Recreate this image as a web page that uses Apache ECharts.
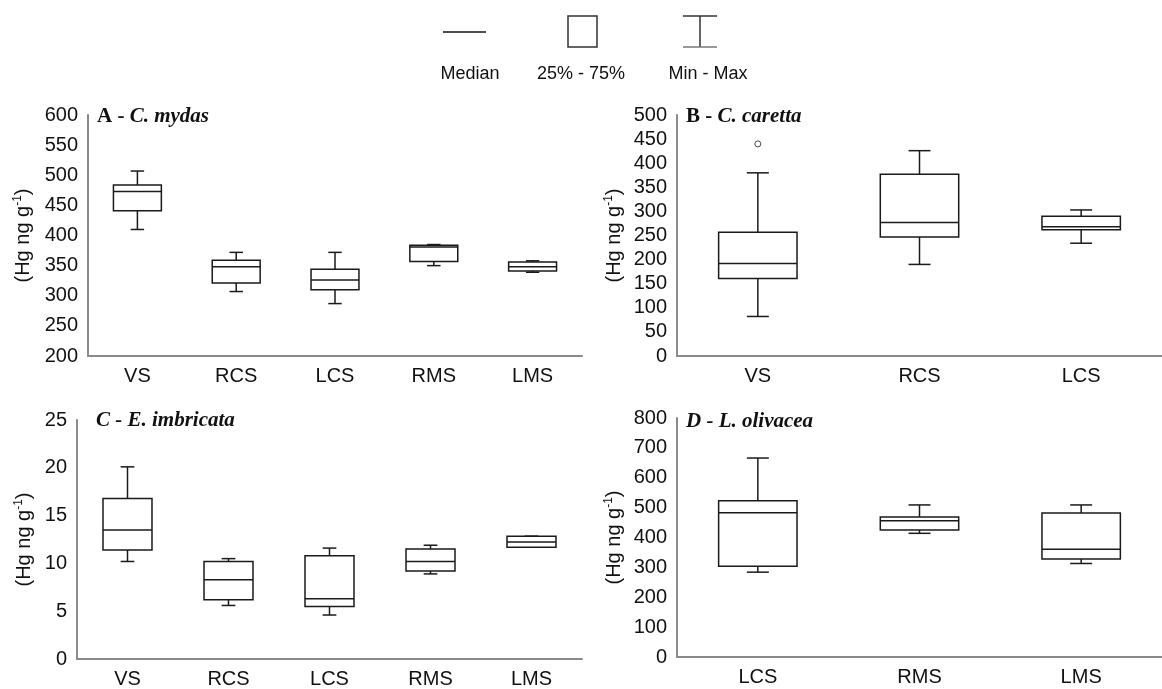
<!DOCTYPE html>
<html>
<head>
<meta charset="utf-8">
<script src="https://cdn.jsdelivr.net/npm/echarts@6/dist/echarts.min.js"></script>
<style>
html,body{margin:0;padding:0;background:#fff;}
#chart{width:1162px;height:689px;}
</style>
</head>
<body>
<div id="chart"></div>
<script>
// ---- Data ----
const catsA = ['VS', 'RCS', 'LCS', 'RMS', 'LMS'];
const minA = [410, 307, 287, 350, 339];
const q1A  = [441, 321, 310, 357, 341];
const medA = [473, 348, 326, 381, 348];
const q3A  = [484, 359, 344, 384, 356];
const maxA = [507, 372, 372, 385, 358];

const catsB = ['VS', 'RCS', 'LCS'];
const minB = [82, 190, 234];
const q1B  = [161, 247, 262];
const medB = [192, 277, 268];
const q3B  = [257, 377, 290];
const maxB = [380, 426, 303];
const outlierB = [[0, 440]];

const catsC = ['VS', 'RCS', 'LCS', 'RMS', 'LMS'];
const minC = [10.2, 5.6, 4.6, 8.9, 11.7];
const q1C  = [11.4, 6.2, 5.5, 9.2, 11.7];
const medC = [13.5, 8.3, 6.3, 10.2, 12.25];
const q3C  = [16.8, 10.2, 10.8, 11.5, 12.85];
const maxC = [20.1, 10.5, 11.6, 11.9, 12.85];

const catsD = ['LCS', 'RMS', 'LMS'];
const minD = [284, 414, 313];
const q1D  = [304, 425, 328];
const medD = [483, 456, 361];
const q3D  = [523, 469, 482];
const maxD = [666, 509, 509];

const yTicksA = {min: 200, max: 600, interval: 50};
const yTicksB = {min: 0, max: 500, interval: 50};
const yTicksC = {min: 0, max: 25, interval: 5};
const yTicksD = {min: 0, max: 800, interval: 100};

// ---- Helpers ----
function rows(mins, q1s, meds, q3s, maxs) {
  return mins.map((m, i) => [i, m, q1s[i], meds[i], q3s[i], maxs[i]]);
}

const SANS = 'Liberation Sans, Arial, sans-serif';
const SERIF = 'Liberation Serif, Times New Roman, serif';

function renderBox(params, api) {
  const x = api.value(0);
  const pMin = api.coord([x, api.value(1)]);
  const pQ1 = api.coord([x, api.value(2)]);
  const pMed = api.coord([x, api.value(3)]);
  const pQ3 = api.coord([x, api.value(4)]);
  const pMax = api.coord([x, api.value(5)]);
  const band = api.size([1, 0])[0];
  const bw = band * 0.485;
  const half = bw / 2;
  const capHalf = bw * 0.14;
  const cx = pMed[0];
  const ls = {stroke: '#1a1a1a', lineWidth: 1.5, fill: null};
  const children = [];
  children.push({type: 'line', shape: {x1: cx, y1: pQ3[1], x2: cx, y2: pMax[1]}, style: ls});
  children.push({type: 'line', shape: {x1: cx - capHalf, y1: pMax[1], x2: cx + capHalf, y2: pMax[1]}, style: ls});
  children.push({type: 'line', shape: {x1: cx, y1: pQ1[1], x2: cx, y2: pMin[1]}, style: ls});
  children.push({type: 'line', shape: {x1: cx - capHalf, y1: pMin[1], x2: cx + capHalf, y2: pMin[1]}, style: ls});
  children.push({type: 'rect', shape: {x: cx - half, y: pQ3[1], width: bw, height: pQ1[1] - pQ3[1]},
    style: {stroke: '#1a1a1a', lineWidth: 1.5, fill: '#fff'}});
  children.push({type: 'line', shape: {x1: cx - half, y1: pMed[1], x2: cx + half, y2: pMed[1]}, style: ls});
  return {type: 'group', children: children};
}

function xAx(gi, cats) {
  return {
    type: 'category', gridIndex: gi, data: cats, boundaryGap: true,
    axisLine: {lineStyle: {color: '#8a8a8a', width: 2}},
    axisTick: {show: false},
    axisLabel: {color: '#111', fontSize: 20, fontFamily: SANS, margin: 10},
    splitLine: {show: false}
  };
}
function yAx(gi, t, gap) {
  return {
    type: 'value', gridIndex: gi, min: t.min, max: t.max, interval: t.interval,
    axisLine: {show: true, lineStyle: {color: '#8a8a8a', width: 2}},
    axisTick: {show: false},
    splitLine: {show: false},
    axisLabel: {color: '#111', fontSize: 20, fontFamily: SANS, margin: 10},
    name: '(Hg ng g{sup|-1})',
    nameLocation: 'middle',
    nameGap: gap,
    nameTextStyle: {
      color: '#111', fontSize: 20, fontFamily: SANS,
      rich: {sup: {fontSize: 12, fontFamily: SANS, color: '#111', padding: [0, 0, 10, 0]}}
    }
  };
}
function titleOf(left, top, a, b) {
  return {
    left: left, top: top, padding: 0, text: '{a|' + a + '}{b|' + b + '}',
    textStyle: {
      rich: {
        a: {fontFamily: SERIF, fontWeight: 'bold', fontSize: 21, color: '#111'},
        b: {fontFamily: SERIF, fontWeight: 'bold', fontStyle: 'italic', fontSize: 21, color: '#111'}
      }
    }
  };
}

const chart = echarts.init(document.getElementById('chart'), null, {renderer: 'canvas'});

const option = {
  backgroundColor: '#fff',
  animation: false,
  title: [
    titleOf(97, 106, 'A - ', 'C. mydas'),
    titleOf(686, 106, 'B - ', 'C. caretta'),
    titleOf(96, 410, '', 'C - E. imbricata'),
    titleOf(686, 411, '', 'D - L. olivacea')
  ],
  grid: [
    {left: 88, top: 115, width: 494, height: 241},
    {left: 677, top: 115, width: 490, height: 241},
    {left: 77, top: 420, width: 505, height: 239},
    {left: 677, top: 418, width: 490, height: 239}
  ],
  xAxis: [xAx(0, catsA), xAx(1, catsB), xAx(2, catsC), xAx(3, catsD)],
  yAxis: [yAx(0, yTicksA, 54), yAx(1, yTicksB, 52), yAx(2, yTicksC, 42), yAx(3, yTicksD, 52)],
  series: [
    {type: 'custom', xAxisIndex: 0, yAxisIndex: 0, renderItem: renderBox,
      encode: {x: 0, y: [1, 2, 3, 4, 5]}, data: rows(minA, q1A, medA, q3A, maxA)},
    {type: 'custom', xAxisIndex: 1, yAxisIndex: 1, renderItem: renderBox,
      encode: {x: 0, y: [1, 2, 3, 4, 5]}, data: rows(minB, q1B, medB, q3B, maxB)},
    {type: 'scatter', xAxisIndex: 1, yAxisIndex: 1, data: outlierB, symbol: 'circle', symbolSize: 6,
      itemStyle: {color: '#fff', borderColor: '#222', borderWidth: 1}},
    {type: 'custom', xAxisIndex: 2, yAxisIndex: 2, renderItem: renderBox,
      encode: {x: 0, y: [1, 2, 3, 4, 5]}, data: rows(minC, q1C, medC, q3C, maxC)},
    {type: 'custom', xAxisIndex: 3, yAxisIndex: 3, renderItem: renderBox,
      encode: {x: 0, y: [1, 2, 3, 4, 5]}, data: rows(minD, q1D, medD, q3D, maxD)}
  ],
  graphic: [
    {type: 'line', shape: {x1: 443, y1: 32, x2: 486, y2: 32}, style: {stroke: '#111', lineWidth: 1.5}},
    {type: 'rect', shape: {x: 568, y: 16, width: 29, height: 31}, style: {stroke: '#333', lineWidth: 1.5, fill: '#fff'}},
    {type: 'line', shape: {x1: 683, y1: 16, x2: 717, y2: 16}, style: {stroke: '#333', lineWidth: 1.5}},
    {type: 'line', shape: {x1: 700, y1: 16, x2: 700, y2: 47}, style: {stroke: '#333', lineWidth: 1.5}},
    {type: 'line', shape: {x1: 683, y1: 47, x2: 717, y2: 47}, style: {stroke: '#777', lineWidth: 1.5}},
    {type: 'text', x: 470, y: 74, style: {text: 'Median', font: '18px ' + SANS, fill: '#111', textAlign: 'center', textVerticalAlign: 'middle'}},
    {type: 'text', x: 581, y: 74, style: {text: '25% - 75%', font: '18px ' + SANS, fill: '#111', textAlign: 'center', textVerticalAlign: 'middle'}},
    {type: 'text', x: 708, y: 74, style: {text: 'Min - Max', font: '18px ' + SANS, fill: '#111', textAlign: 'center', textVerticalAlign: 'middle'}}
  ]
};
chart.setOption(option);
</script>
</body>
</html>
